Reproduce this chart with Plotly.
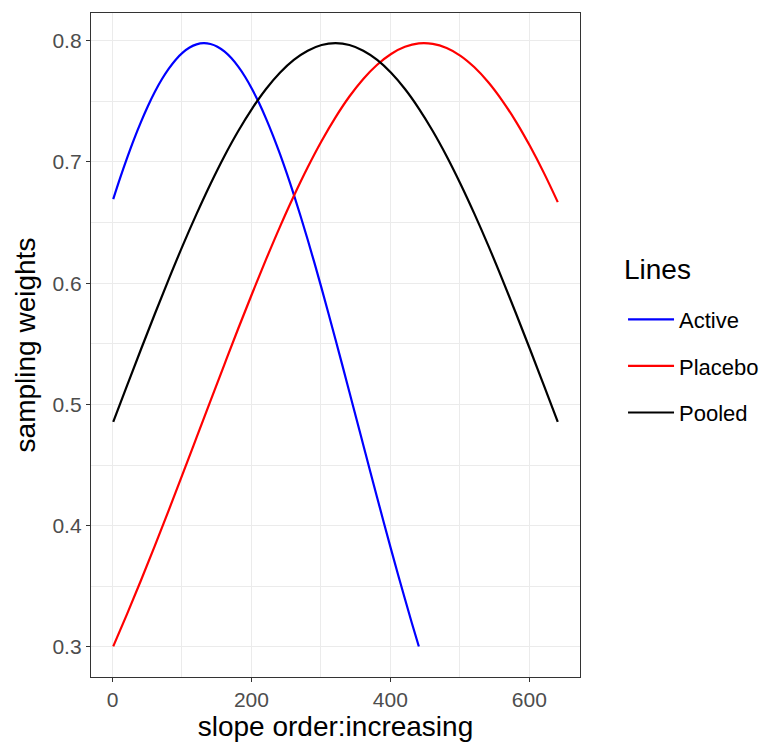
import plotly.graph_objects as go

# slope order (x) positions at which values were read
pooled_x = [1, 21, 41, 61, 81, 101, 121, 141, 161, 181, 201, 221, 241, 261, 281, 301, 321,
            341, 361, 381, 401, 421, 441, 461, 481, 501, 521, 541, 561, 581, 601, 621, 641]
pooled_y = [0.4855, 0.5156, 0.5455, 0.5748, 0.6034, 0.6310, 0.6572, 0.6819, 0.7048, 0.7256,
            0.7441, 0.7602, 0.7736, 0.7842, 0.7918, 0.7965, 0.7980, 0.7965, 0.7918, 0.7842,
            0.7736, 0.7602, 0.7441, 0.7256, 0.7048, 0.6819, 0.6572, 0.6310, 0.6034, 0.5748,
            0.5455, 0.5156, 0.4855]

active_x = [1, 11, 21, 31, 41, 51, 61, 71, 81, 91, 101, 111, 121, 131, 141, 151, 161, 171,
            181, 191, 201, 211, 221, 231, 241, 251, 261, 271, 281, 291, 301, 311, 321, 331,
            341, 351, 361, 371, 381, 391, 401, 411, 421, 431, 441]
active_y = [0.6694, 0.6869, 0.7034, 0.7189, 0.7331, 0.7462, 0.7579, 0.7682, 0.7770, 0.7844,
            0.7902, 0.7944, 0.7970, 0.7980, 0.7973, 0.7951, 0.7912, 0.7857, 0.7786, 0.7701,
            0.7600, 0.7486, 0.7358, 0.7218, 0.7066, 0.6903, 0.6730, 0.6548, 0.6358, 0.6161,
            0.5957, 0.5748, 0.5536, 0.5320, 0.5102, 0.4884, 0.4665, 0.4446, 0.4230, 0.4016,
            0.3804, 0.3597, 0.3394, 0.3195, 0.3003]

placebo_x = pooled_x
placebo_y = [0.3004, 0.3272, 0.3549, 0.3835, 0.4128, 0.4426, 0.4727, 0.5029, 0.5329, 0.5626,
             0.5915, 0.6196, 0.6465, 0.6719, 0.6956, 0.7173, 0.7368, 0.7540, 0.7685, 0.7802,
             0.7891, 0.7950, 0.7978, 0.7974, 0.7940, 0.7876, 0.7781, 0.7658, 0.7507, 0.7331,
             0.7131, 0.6910, 0.6669]

x_ticks = [0, 200, 400, 600]
y_ticks = [0.3, 0.4, 0.5, 0.6, 0.7, 0.8]
y_tick_labels = ["0.3", "0.4", "0.5", "0.6", "0.7", "0.8"]

FONT = "Liberation Sans, Arial, Helvetica, sans-serif"

fig = go.Figure()
series = [("Active", active_x, active_y, "#0000FF"),
          ("Placebo", placebo_x, placebo_y, "#FF0000"),
          ("Pooled", pooled_x, pooled_y, "#000000")]
for name, xs, ys, col in series:
    fig.add_trace(go.Scatter(x=xs, y=ys, mode="lines", name=name, legendgroup=name,
                             line=dict(color=col, width=2.2, shape="spline", smoothing=1)))

grid = "#EBEBEB"
axis_common = dict(showline=True, mirror=True, linecolor="#333333", linewidth=1.3,
                   ticks="outside", ticklen=4, tickwidth=1.3, tickcolor="#333333",
                   showgrid=True, gridcolor=grid, gridwidth=1.3, zeroline=False,
                   tickfont=dict(family=FONT, size=21, color="#4D4D4D"))

fig.update_xaxes(range=[-31, 673], tickvals=x_ticks,
                 minor=dict(dtick=100, tick0=0, showgrid=True, gridcolor=grid, gridwidth=0.7, ticks=""),
                 title=dict(text="slope order:increasing", font=dict(family=FONT, size=28, color="black"),
                            standoff=6),
                 **axis_common)
fig.update_yaxes(range=[0.2751, 0.8229], tickvals=y_ticks, ticktext=y_tick_labels,
                 minor=dict(dtick=0.05, tick0=0.3, showgrid=True, gridcolor=grid, gridwidth=0.7, ticks=""),
                 title=dict(text="sampling weights", font=dict(family=FONT, size=28, color="black"),
                            standoff=8),
                 **axis_common)

fig.update_layout(
    width=771, height=745,
    margin=dict(l=83, r=199, t=5, b=76),
    paper_bgcolor="white", plot_bgcolor="white",
    font=dict(family=FONT),
    showlegend=True,
    legend=dict(font=dict(family=FONT, size=22, color="black"),
                x=1.088, xanchor="left", y=0.57, yanchor="top",
                itemwidth=46,
                traceorder="grouped", tracegroupgap=15,
                bgcolor="rgba(0,0,0,0)"),
    annotations=[dict(text="Lines", x=1.086, y=0.613, xref="paper", yref="paper",
                      xanchor="left", yanchor="middle", showarrow=False,
                      font=dict(family=FONT, size=28, color="black"))],
)

fig.write_html("out.html")
